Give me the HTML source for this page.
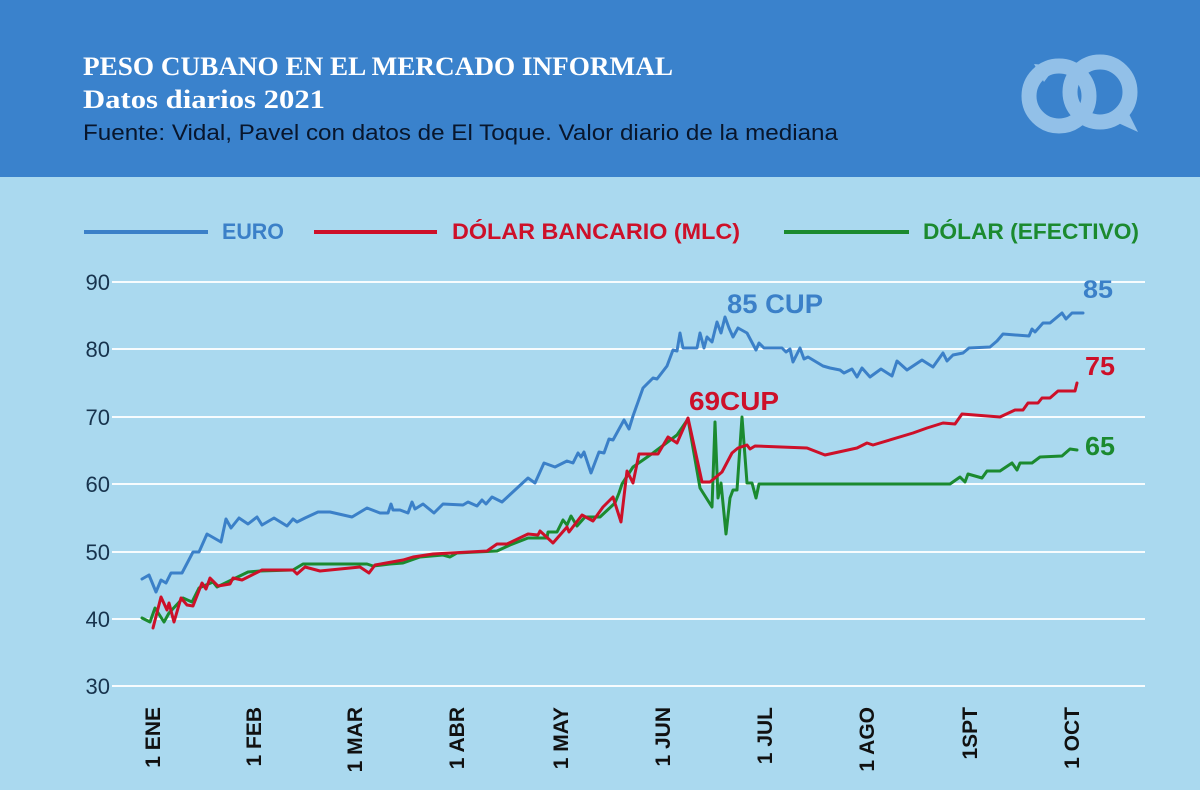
<!DOCTYPE html>
<html><head><meta charset="utf-8"><style>
html,body{margin:0;padding:0;width:1200px;height:790px;overflow:hidden;background:#aad9ef}
svg{display:block}
</style></head><body>
<svg width="1200" height="790" viewBox="0 0 1200 790" xmlns="http://www.w3.org/2000/svg">
<rect x="0" y="0" width="1200" height="790" fill="#aad9ef"/>
<rect x="0" y="0" width="1200" height="177" fill="#3a82cc"/>
<text x="83" y="75" font-family="Liberation Serif, serif" font-weight="bold" font-size="26" fill="#ffffff" textLength="590" lengthAdjust="spacingAndGlyphs">PESO CUBANO EN EL MERCADO INFORMAL</text>
<text x="83" y="108" font-family="Liberation Serif, serif" font-weight="bold" font-size="26" fill="#ffffff" textLength="242" lengthAdjust="spacingAndGlyphs">Datos diarios 2021</text>
<text x="83" y="140" font-family="Liberation Sans, sans-serif" font-size="22" fill="#08162c" textLength="755" lengthAdjust="spacingAndGlyphs">Fuente: Vidal, Pavel con datos de El Toque. Valor diario de la mediana</text>
<g fill="none" stroke="#92c0e8" stroke-width="15">
<circle cx="1059" cy="96" r="30"/>
<circle cx="1100" cy="92" r="30"/>
</g>
<polygon points="1034,64 1056,66 1044,82" fill="#92c0e8"/>
<polygon points="1138,132 1116,122 1128,112" fill="#92c0e8"/>
<line x1="84" y1="232" x2="208" y2="232" stroke="#3b80c8" stroke-width="4"/>
<text x="222" y="239" font-family="Liberation Sans, sans-serif" font-weight="bold" font-size="22" fill="#3b80c8" textLength="62" lengthAdjust="spacingAndGlyphs">EURO</text>
<line x1="314" y1="232" x2="437" y2="232" stroke="#cd1029" stroke-width="4"/>
<text x="452" y="239" font-family="Liberation Sans, sans-serif" font-weight="bold" font-size="22" fill="#cd1029" textLength="288" lengthAdjust="spacingAndGlyphs">DÓLAR BANCARIO (MLC)</text>
<line x1="784" y1="232" x2="909" y2="232" stroke="#1b8a2f" stroke-width="4"/>
<text x="923" y="239" font-family="Liberation Sans, sans-serif" font-weight="bold" font-size="22" fill="#1b8a2f" textLength="216" lengthAdjust="spacingAndGlyphs">DÓLAR (EFECTIVO)</text>
<g stroke="#f7fcfe" stroke-width="2">
<line x1="112" y1="282" x2="1145" y2="282"/>
<line x1="112" y1="349" x2="1145" y2="349"/>
<line x1="112" y1="417" x2="1145" y2="417"/>
<line x1="112" y1="484" x2="1145" y2="484"/>
<line x1="112" y1="552" x2="1145" y2="552"/>
<line x1="112" y1="619" x2="1145" y2="619"/>
<line x1="112" y1="686" x2="1145" y2="686"/>
</g>
<g font-family="Liberation Sans, sans-serif" font-size="22" fill="#17334d" text-anchor="end">
<text x="110" y="290">90</text>
<text x="110" y="357">80</text>
<text x="110" y="425">70</text>
<text x="110" y="492">60</text>
<text x="110" y="560">50</text>
<text x="110" y="627">40</text>
<text x="110" y="694">30</text>
</g>
<g font-family="Liberation Sans, sans-serif" font-weight="bold" font-size="21" fill="#111111" text-anchor="end">
<text transform="translate(160,707) rotate(-90)">1 ENE</text>
<text transform="translate(261,707) rotate(-90)">1 FEB</text>
<text transform="translate(362,707) rotate(-90)">1 MAR</text>
<text transform="translate(464,707) rotate(-90)">1 ABR</text>
<text transform="translate(568,707) rotate(-90)">1 MAY</text>
<text transform="translate(670,707) rotate(-90)">1 JUN</text>
<text transform="translate(772,707) rotate(-90)">1 JUL</text>
<text transform="translate(874,707) rotate(-90)">1 AGO</text>
<text transform="translate(977,707) rotate(-90)">1SPT</text>
<text transform="translate(1079,707) rotate(-90)">1 OCT</text>
</g>
<g fill="none" stroke-width="3" stroke-linejoin="round" stroke-linecap="round">
<polyline stroke="#1b8a2f" points="142,618 150,622 155,608 164,622 169,613 183,598 192,602 199,588 213,582 217,587 248,572 260,571 293,570 303,564 367,564 373,566 390,564 403,563 420,557 443,555 450,557 457,553 497,551 510,545 528,538 547,538 548,532 557,532 563,520 567,525 571,516 577,526 585,517 600,517 615,503 619,493 622,484 633,467 643,460 653,453 677,435 688,419 700,488 712,507 715,422 718,498 721,483 726,534 730,498 733,490 737,490 742,417 747,483 752,483 756,498 759,484 950,484 960,477 965,482 968,474 982,478 987,471 1000,471 1012,463 1017,470 1020,463 1032,463 1040,457 1062,456 1070,449 1077,450"/>
<polyline stroke="#cd1029" points="153,628 161,597 167,610 169,603 174,622 181,598 187,605 193,606 202,583 206,589 210,578 218,586 230,584 233,578 242,580 262,570 293,570 297,574 305,567 320,571 360,567 369,573 375,565 403,560 413,557 433,554 487,551 497,544 507,544 528,534 538,535 540,531 553,543 567,527 569,532 582,515 593,521 603,507 613,497 621,522 627,471 633,483 639,454 658,454 668,437 677,443 688,418 702,482 710,482 722,472 732,453 738,448 747,445 750,449 755,446 807,448 825,455 857,448 867,443 873,445 913,433 927,428 943,423 955,424 962,414 1000,417 1015,410 1023,410 1028,403 1038,403 1042,398 1050,398 1058,391 1075,391 1077,383"/>
<polyline stroke="#3b80c8" points="142,579 149,575 156,592 161,580 166,583 171,573 182,573 193,552 199,552 207,534 221,542 226,519 231,528 239,518 248,524 257,517 262,525 274,518 287,526 293,519 297,522 305,518 318,512 330,512 352,517 367,508 380,513 388,513 391,504 393,510 400,510 408,513 412,502 415,509 423,504 434,513 443,504 463,505 468,502 477,506 482,500 486,504 492,497 502,502 528,478 535,483 544,463 555,467 567,461 573,463 578,453 581,457 584,452 591,473 599,452 604,453 609,439 613,440 624,420 629,429 633,416 643,388 653,378 657,379 667,366 673,350 677,351 680,333 683,348 697,348 700,333 704,348 707,337 712,342 717,322 721,333 725,317 729,328 733,337 738,328 747,333 756,350 759,343 764,348 782,348 786,352 790,349 793,362 800,348 804,359 808,357 823,366 830,368 840,370 844,373 852,369 857,377 862,368 870,377 881,369 892,376 897,361 907,370 922,360 933,367 943,353 947,361 953,355 963,353 969,348 990,347 997,341 1003,334 1029,336 1032,329 1035,332 1043,323 1050,323 1062,313 1066,319 1072,313 1083,313"/>
</g>
<g font-family="Liberation Sans, sans-serif" font-weight="bold">
<text x="727" y="313" font-size="27" fill="#3b80c8" textLength="96" lengthAdjust="spacingAndGlyphs">85 CUP</text>
<text x="689" y="410" font-size="26" fill="#cd1029" textLength="90" lengthAdjust="spacingAndGlyphs">69CUP</text>
<text x="1083" y="298" font-size="25" fill="#3b80c8" textLength="30" lengthAdjust="spacingAndGlyphs">85</text>
<text x="1085" y="375" font-size="26" fill="#cd1029" textLength="30" lengthAdjust="spacingAndGlyphs">75</text>
<text x="1085" y="455" font-size="26" fill="#1b8a2f" textLength="30" lengthAdjust="spacingAndGlyphs">65</text>
</g>
</svg>
</body></html>
